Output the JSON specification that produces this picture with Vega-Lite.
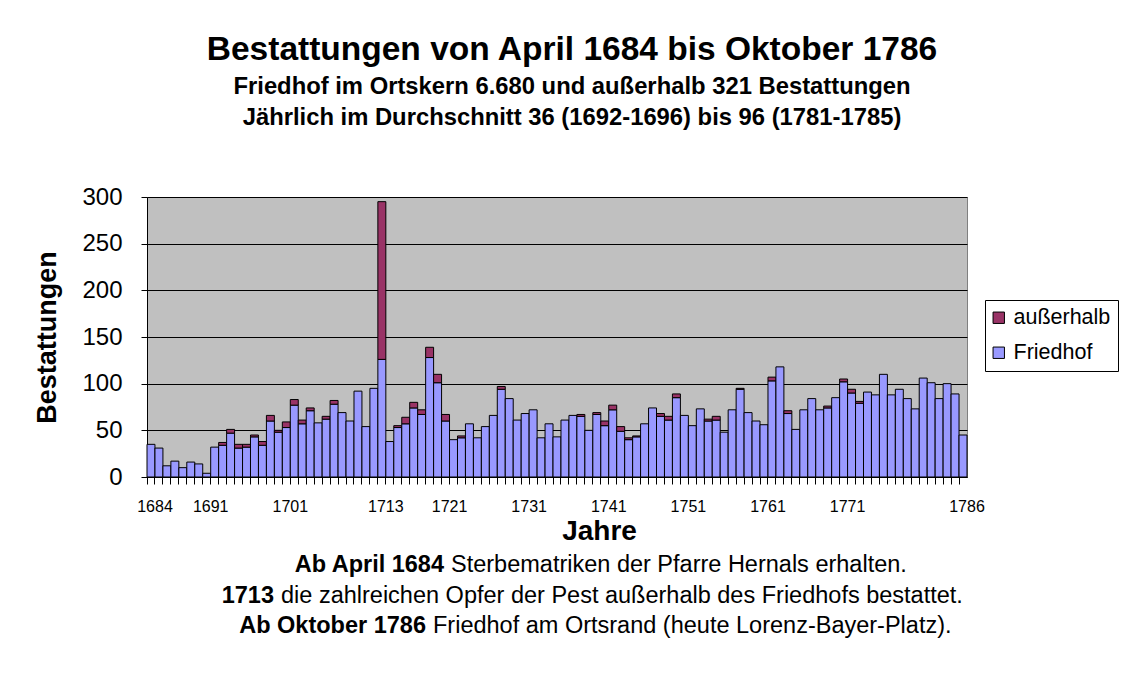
{
  "$schema": "https://vega.github.io/schema/vega-lite/v6.json",
  "background": "white",
  "padding": {"left": 33, "top": 32, "right": 10, "bottom": 10},
  "spacing": 4,
  "config": {"font": "Liberation Sans", "view": {"stroke": null}},
  "vconcat": [
    {
      "width": 820,
      "height": 280,
      "view": {"fill": "#C0C0C0", "stroke": "#808080"},
      "title": {
        "text": "Bestattungen von April 1684 bis Oktober 1786",
        "subtitle": ["Friedhof im Ortskern 6.680 und außerhalb 321 Bestattungen", "Jährlich im Durchschnitt 36 (1692-1696) bis 96 (1781-1785)"],
        "fontSize": 33.5, "fontWeight": "bold", "color": "black",
        "subtitleFontSize": 23.8, "subtitleFontWeight": "bold", "subtitleColor": "black",
        "subtitlePadding": 8, "subtitleLineHeight": 31, "offset": 54, "anchor": "middle", "dx": 15
      },
      "data": {"values": [
        {"Jahr": 1684, "Friedhof": 35, "außerhalb": 0},
        {"Jahr": 1685, "Friedhof": 31, "außerhalb": 0},
        {"Jahr": 1686, "Friedhof": 12, "außerhalb": 0},
        {"Jahr": 1687, "Friedhof": 17, "außerhalb": 0},
        {"Jahr": 1688, "Friedhof": 10, "außerhalb": 0},
        {"Jahr": 1689, "Friedhof": 16, "außerhalb": 0},
        {"Jahr": 1690, "Friedhof": 14, "außerhalb": 0},
        {"Jahr": 1691, "Friedhof": 4, "außerhalb": 0},
        {"Jahr": 1692, "Friedhof": 32, "außerhalb": 0},
        {"Jahr": 1693, "Friedhof": 34, "außerhalb": 3},
        {"Jahr": 1694, "Friedhof": 47, "außerhalb": 4},
        {"Jahr": 1695, "Friedhof": 31, "außerhalb": 4},
        {"Jahr": 1696, "Friedhof": 32, "außerhalb": 3},
        {"Jahr": 1697, "Friedhof": 43, "außerhalb": 2},
        {"Jahr": 1698, "Friedhof": 34, "außerhalb": 4},
        {"Jahr": 1699, "Friedhof": 60, "außerhalb": 6},
        {"Jahr": 1700, "Friedhof": 48, "außerhalb": 2},
        {"Jahr": 1701, "Friedhof": 53, "außerhalb": 6},
        {"Jahr": 1702, "Friedhof": 77, "außerhalb": 6},
        {"Jahr": 1703, "Friedhof": 57, "außerhalb": 4},
        {"Jahr": 1704, "Friedhof": 71, "außerhalb": 3},
        {"Jahr": 1705, "Friedhof": 58, "außerhalb": 0},
        {"Jahr": 1706, "Friedhof": 62, "außerhalb": 3},
        {"Jahr": 1707, "Friedhof": 78, "außerhalb": 4},
        {"Jahr": 1708, "Friedhof": 69, "außerhalb": 0},
        {"Jahr": 1709, "Friedhof": 60, "außerhalb": 0},
        {"Jahr": 1710, "Friedhof": 92, "außerhalb": 0},
        {"Jahr": 1711, "Friedhof": 54, "außerhalb": 0},
        {"Jahr": 1712, "Friedhof": 95, "außerhalb": 0},
        {"Jahr": 1713, "Friedhof": 126, "außerhalb": 169},
        {"Jahr": 1714, "Friedhof": 38, "außerhalb": 0},
        {"Jahr": 1715, "Friedhof": 53, "außerhalb": 2},
        {"Jahr": 1716, "Friedhof": 57, "außerhalb": 7},
        {"Jahr": 1717, "Friedhof": 74, "außerhalb": 6},
        {"Jahr": 1718, "Friedhof": 67, "außerhalb": 5},
        {"Jahr": 1719, "Friedhof": 128, "außerhalb": 11},
        {"Jahr": 1720, "Friedhof": 101, "außerhalb": 9},
        {"Jahr": 1721, "Friedhof": 60, "außerhalb": 7},
        {"Jahr": 1722, "Friedhof": 40, "außerhalb": 0},
        {"Jahr": 1723, "Friedhof": 42, "außerhalb": 2},
        {"Jahr": 1724, "Friedhof": 57, "außerhalb": 0},
        {"Jahr": 1725, "Friedhof": 42, "außerhalb": 0},
        {"Jahr": 1726, "Friedhof": 54, "außerhalb": 0},
        {"Jahr": 1727, "Friedhof": 66, "außerhalb": 0},
        {"Jahr": 1728, "Friedhof": 94, "außerhalb": 3},
        {"Jahr": 1729, "Friedhof": 84, "außerhalb": 0},
        {"Jahr": 1730, "Friedhof": 61, "außerhalb": 0},
        {"Jahr": 1731, "Friedhof": 68, "außerhalb": 0},
        {"Jahr": 1732, "Friedhof": 72, "außerhalb": 0},
        {"Jahr": 1733, "Friedhof": 42, "außerhalb": 0},
        {"Jahr": 1734, "Friedhof": 57, "außerhalb": 0},
        {"Jahr": 1735, "Friedhof": 43, "außerhalb": 0},
        {"Jahr": 1736, "Friedhof": 61, "außerhalb": 0},
        {"Jahr": 1737, "Friedhof": 66, "außerhalb": 0},
        {"Jahr": 1738, "Friedhof": 65, "außerhalb": 2},
        {"Jahr": 1739, "Friedhof": 50, "außerhalb": 0},
        {"Jahr": 1740, "Friedhof": 67, "außerhalb": 2},
        {"Jahr": 1741, "Friedhof": 55, "außerhalb": 5},
        {"Jahr": 1742, "Friedhof": 72, "außerhalb": 5},
        {"Jahr": 1743, "Friedhof": 49, "außerhalb": 5},
        {"Jahr": 1744, "Friedhof": 40, "außerhalb": 2},
        {"Jahr": 1745, "Friedhof": 43, "außerhalb": 1},
        {"Jahr": 1746, "Friedhof": 57, "außerhalb": 0},
        {"Jahr": 1747, "Friedhof": 74, "außerhalb": 0},
        {"Jahr": 1748, "Friedhof": 65, "außerhalb": 3},
        {"Jahr": 1749, "Friedhof": 61, "außerhalb": 4},
        {"Jahr": 1750, "Friedhof": 85, "außerhalb": 4},
        {"Jahr": 1751, "Friedhof": 66, "außerhalb": 0},
        {"Jahr": 1752, "Friedhof": 55, "außerhalb": 0},
        {"Jahr": 1753, "Friedhof": 73, "außerhalb": 0},
        {"Jahr": 1754, "Friedhof": 60, "außerhalb": 2},
        {"Jahr": 1755, "Friedhof": 61, "außerhalb": 4},
        {"Jahr": 1756, "Friedhof": 48, "außerhalb": 0},
        {"Jahr": 1757, "Friedhof": 72, "außerhalb": 0},
        {"Jahr": 1758, "Friedhof": 94, "außerhalb": 1},
        {"Jahr": 1759, "Friedhof": 69, "außerhalb": 0},
        {"Jahr": 1760, "Friedhof": 60, "außerhalb": 0},
        {"Jahr": 1761, "Friedhof": 56, "außerhalb": 0},
        {"Jahr": 1762, "Friedhof": 103, "außerhalb": 4},
        {"Jahr": 1763, "Friedhof": 118, "außerhalb": 0},
        {"Jahr": 1764, "Friedhof": 68, "außerhalb": 3},
        {"Jahr": 1765, "Friedhof": 51, "außerhalb": 0},
        {"Jahr": 1766, "Friedhof": 72, "außerhalb": 0},
        {"Jahr": 1767, "Friedhof": 84, "außerhalb": 0},
        {"Jahr": 1768, "Friedhof": 72, "außerhalb": 0},
        {"Jahr": 1769, "Friedhof": 74, "außerhalb": 2},
        {"Jahr": 1770, "Friedhof": 85, "außerhalb": 0},
        {"Jahr": 1771, "Friedhof": 102, "außerhalb": 3},
        {"Jahr": 1772, "Friedhof": 90, "außerhalb": 4},
        {"Jahr": 1773, "Friedhof": 79, "außerhalb": 2},
        {"Jahr": 1774, "Friedhof": 91, "außerhalb": 0},
        {"Jahr": 1775, "Friedhof": 88, "außerhalb": 0},
        {"Jahr": 1776, "Friedhof": 110, "außerhalb": 0},
        {"Jahr": 1777, "Friedhof": 88, "außerhalb": 0},
        {"Jahr": 1778, "Friedhof": 94, "außerhalb": 0},
        {"Jahr": 1779, "Friedhof": 84, "außerhalb": 0},
        {"Jahr": 1780, "Friedhof": 73, "außerhalb": 0},
        {"Jahr": 1781, "Friedhof": 106, "außerhalb": 0},
        {"Jahr": 1782, "Friedhof": 101, "außerhalb": 0},
        {"Jahr": 1783, "Friedhof": 84, "außerhalb": 0},
        {"Jahr": 1784, "Friedhof": 100, "außerhalb": 0},
        {"Jahr": 1785, "Friedhof": 89, "außerhalb": 0},
        {"Jahr": 1786, "Friedhof": 45, "außerhalb": 0}
      ]},
      "transform": [
        {"fold": ["Friedhof", "außerhalb"], "as": ["Art", "Anzahl"]},
        {"filter": "datum.Anzahl > 0"}
      ],
      "mark": {"type": "bar", "stroke": "black", "strokeWidth": 1},
      "encoding": {
        "x": {
          "field": "Jahr", "type": "ordinal",
          "scale": {"paddingInner": 0, "paddingOuter": 0},
          "axis": {
            "title": "Jahre", "titleFontSize": 28, "titleFontWeight": "bold", "titleColor": "black", "titlePadding": 3, "titleX": 452,
            "labelExpr": "indexof([1684,1691,1701,1713,1721,1731,1741,1751,1761,1771,1786], datum.value) >= 0 ? datum.label : ''",
            "labelAngle": 0, "labelFontSize": 16, "labelColor": "black", "labelPadding": 14, "labelOverlap": false, "labelFlush": false,
            "bandPosition": 0, "labelOffset": 4, "tickColor": "black", "tickSize": 7, "domainColor": "black", "grid": false
          }
        },
        "y": {
          "field": "Anzahl", "type": "quantitative", "stack": "zero",
          "scale": {"domain": [0, 300]},
          "axis": {
            "title": "Bestattungen", "values": [0, 50, 100, 150, 200, 250, 300],
            "grid": true, "gridColor": "black", "gridOpacity": 1, "gridWidth": 1,
            "domainColor": "black", "tickColor": "black", "tickSize": 6,
            "labelFontSize": 24, "labelColor": "black", "labelPadding": 19,
            "titleFontSize": 27, "titleFontWeight": "bold", "titleColor": "black", "titlePadding": 20
          }
        },
        "color": {
          "field": "Art", "type": "nominal",
          "scale": {"domain": ["außerhalb", "Friedhof"], "range": ["#993366", "#9999FF"]},
          "legend": {
            "title": null, "orient": "none", "legendX": 838, "legendY": 103,
            "padding": 7, "strokeColor": "black", "fillColor": "white",
            "labelFontSize": 21.5, "labelColor": "black", "labelOffset": 4, "symbolOffset": -4,
            "symbolType": "square", "symbolSize": 130, "symbolStrokeColor": "black", "symbolStrokeWidth": 1,
            "rowPadding": 12
          }
        },
        "order": {"field": "Art", "sort": "ascending"}
      }
    },
    {
      "width": 820,
      "height": 91,
      "data": {"values": [
        {"Zeile": 1, "fett": "Ab April 1684", "normal": "Sterbematriken der Pfarre Hernals erhalten."},
        {"Zeile": 2, "fett": "1713", "normal": "die zahlreichen Opfer der Pest außerhalb des Friedhofs bestattet."},
        {"Zeile": 3, "fett": "Ab Oktober 1786", "normal": "Friedhof am Ortsrand (heute Lorenz-Bayer-Platz)."}
      ]},
      "encoding": {"y": {"field": "Zeile", "type": "ordinal", "axis": null}},
      "layer": [
        {"transform": [{"filter": "datum.Zeile == 1"}], "mark": {"type": "text", "align": "right", "dx": -113, "fontWeight": "bold", "fontSize": 23.5, "color": "black"}, "encoding": {"text": {"field": "fett"}}},
        {"transform": [{"filter": "datum.Zeile == 1"}], "mark": {"type": "text", "align": "left", "dx": -106, "fontSize": 23.5, "color": "black"}, "encoding": {"text": {"field": "normal"}}},
        {"transform": [{"filter": "datum.Zeile == 2"}], "mark": {"type": "text", "align": "right", "dx": -283, "fontWeight": "bold", "fontSize": 23.5, "color": "black"}, "encoding": {"text": {"field": "fett"}}},
        {"transform": [{"filter": "datum.Zeile == 2"}], "mark": {"type": "text", "align": "left", "dx": -276, "fontSize": 23.5, "color": "black"}, "encoding": {"text": {"field": "normal"}}},
        {"transform": [{"filter": "datum.Zeile == 3"}], "mark": {"type": "text", "align": "right", "dx": -131, "fontWeight": "bold", "fontSize": 23.5, "color": "black"}, "encoding": {"text": {"field": "fett"}}},
        {"transform": [{"filter": "datum.Zeile == 3"}], "mark": {"type": "text", "align": "left", "dx": -124, "fontSize": 23.5, "color": "black"}, "encoding": {"text": {"field": "normal"}}}
      ]
    }
  ]
}
